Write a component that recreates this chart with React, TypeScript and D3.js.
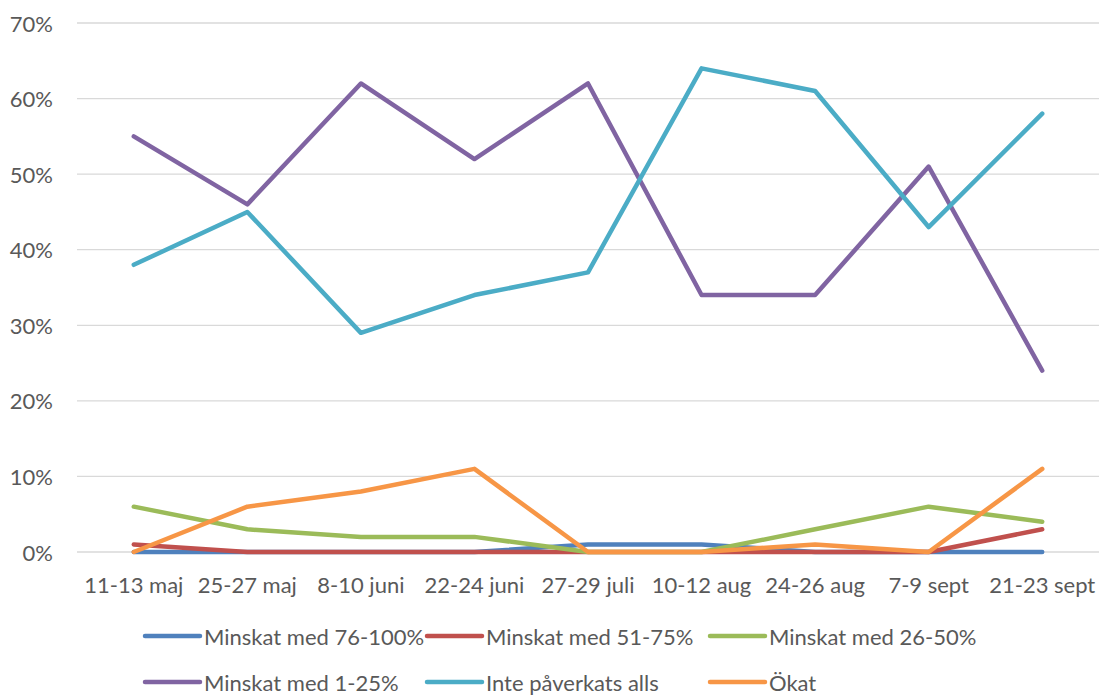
import React from 'react';
import * as d3 from 'd3';

const CATEGORIES = ['11-13 maj', '25-27 maj', '8-10 juni', '22-24 juni', '27-29 juli',
  '10-12 aug', '24-26 aug', '7-9 sept', '21-23 sept'];

const SERIES_NAMES = ['Minskat med 76-100%', 'Minskat med 51-75%', 'Minskat med 26-50%',
  'Minskat med 1-25%', 'Inte påverkats alls', 'Ökat'];
const SERIES_COLORS = ['#4F81BD', '#C0504D', '#9BBB59', '#8064A2', '#4BACC6', '#F79646'];

const minskat76 = [0, 0, 0, 0, 1, 1, 0, 0, 0];
const minskat51 = [1, 0, 0, 0, 0, 0, 0, 0, 3];
const minskat26 = [6, 3, 2, 2, 0, 0, 3, 6, 4];
const minskat1 = [55, 46, 62, 52, 62, 34, 34, 51, 24];
const intePaverkats = [38, 45, 29, 34, 37, 64, 61, 43, 58];
const okat = [0, 6, 8, 11, 0, 0, 1, 0, 11];

const SERIES = [minskat76, minskat51, minskat26, minskat1, intePaverkats, okat];
const Y_TICKS = [0, 10, 20, 30, 40, 50, 60, 70];

const FONT = "Lato, sans-serif";
const FS = 22;
const W = 1099;
const H = 695;

export default function App() {
  const ref = React.useRef<SVGSVGElement>(null);

  React.useEffect(() => {
    const svg = d3.select(ref.current);
    svg.selectAll('*').remove();

    const left = 77;
    const right = 1099;
    const top = 23;
    const bottom = 552;

    const x = d3.scaleBand().domain(CATEGORIES).range([left, right]);
    const y = d3.scaleLinear().domain([0, 70]).range([bottom, top]);

    // gridlines + y labels
    for (const t of Y_TICKS) {
      svg.append('line')
        .attr('x1', left).attr('x2', right)
        .attr('y1', y(t)).attr('y2', y(t))
        .attr('stroke', '#d9d9d9').attr('stroke-width', 1.3);
      svg.append('text')
        .attr('x', 53).attr('y', y(t))
        .attr('text-anchor', 'end')
        .attr('dominant-baseline', 'central')
        .attr('font-family', FONT).attr('font-size', FS)
        .attr('fill', '#595959')
        .text(`${t}%`);
    }

    for (const c of CATEGORIES) {
      svg.append('text')
        .attr('x', x(c)! + x.bandwidth() / 2).attr('y', 584)
        .attr('text-anchor', 'middle')
        .attr('dominant-baseline', 'central')
        .attr('font-family', FONT).attr('font-size', FS)
        .attr('fill', '#595959')
        .text(c);
    }

    const line = d3.line<number>()
      .x((_, i) => x(CATEGORIES[i])! + x.bandwidth() / 2)
      .y(d => y(d));

    SERIES.forEach((s, i) => {
      svg.append('path')
        .attr('d', line(s)!)
        .attr('fill', 'none')
        .attr('stroke', SERIES_COLORS[i])
        .attr('stroke-width', 4.5)
        .attr('stroke-linejoin', 'round')
        .attr('stroke-linecap', 'round');
    });

    // legend, 3 per row
    const colX = [145, 427, 710];
    const rowY = [636, 682];
    SERIES_NAMES.forEach((name, i) => {
      const lx = colX[i % 3];
      const ly = rowY[Math.floor(i / 3)];
      svg.append('line')
        .attr('x1', lx).attr('x2', lx + 55)
        .attr('y1', ly).attr('y2', ly)
        .attr('stroke', SERIES_COLORS[i])
        .attr('stroke-width', 4.5)
        .attr('stroke-linecap', 'round');
      svg.append('text')
        .attr('x', lx + 59).attr('y', ly)
        .attr('dominant-baseline', 'central')
        .attr('font-family', FONT).attr('font-size', FS)
        .attr('fill', '#595959')
        .text(name);
    });
  }, []);

  return (
    <svg ref={ref} width={W} height={H}
      style={{ position: 'absolute', left: 0, top: 0, background: '#fff' }} />
  );
}
